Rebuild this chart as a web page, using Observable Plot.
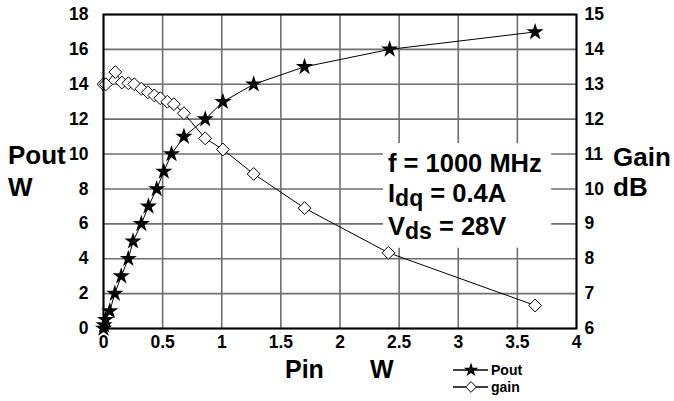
<!DOCTYPE html>
<html>
<head>
<meta charset="utf-8">
<script src="https://cdn.jsdelivr.net/npm/d3@7"></script>
<script src="https://cdn.jsdelivr.net/npm/@observablehq/plot@0.6"></script>
<style>
  html, body { margin: 0; padding: 0; background: #fff; }
  #chart svg { display: block; }
</style>
</head>
<body>
<div id="chart"></div>
<script>
// Pout curve (Pin in W, Pout in W)
const poutPin = [0, 0.005, 0.017, 0.053, 0.096, 0.15, 0.21, 0.25, 0.32, 0.38, 0.45, 0.51, 0.575, 0.68, 0.86, 1.01, 1.27, 1.70, 2.42, 3.65];
const poutW   = [0, 0.2, 0.5, 1, 2, 3, 4, 5, 6, 7, 8, 9, 10, 11, 12, 13, 14, 15, 16, 17];
// Gain curve (Pin in W, gain in dB)
const gainPin = [0, 0.02, 0.10, 0.155, 0.21, 0.26, 0.32, 0.375, 0.43, 0.48, 0.54, 0.595, 0.68, 0.86, 1.01, 1.27, 1.70, 2.41, 3.65];
const gainDb  = [13.0, 13.0, 13.35, 13.05, 13.03, 13.0, 12.87, 12.77, 12.68, 12.6, 12.5, 12.43, 12.17, 11.45, 11.13, 10.43, 9.45, 8.17, 6.66];
// Ticks
const xTicks = [0, 0.5, 1, 1.5, 2, 2.5, 3, 3.5, 4];
const poutTicks = [0, 2, 4, 6, 8, 10, 12, 14, 16, 18];
const gainTicks = [6, 7, 8, 9, 10, 11, 12, 13, 14, 15];
// Annotation
const noteLines = [["f = 1000 MHz", null, null], ["I", "dq", " = 0.4A"], ["V", "ds", " = 28V"]];

// gain axis (6..15 dB) maps onto Pout axis (0..18 W)
const g2y = g => (g - 6) * 2;

const poutData = poutPin.map((p, i) => ({pin: p, v: poutW[i]}));
const gainData = gainPin.map((p, i) => ({pin: p, v: gainDb[i]}));

const font = "'Liberation Sans', Arial, Helvetica, sans-serif";
const gridStyle = {stroke: "#6e6e6e", strokeOpacity: 1, strokeWidth: 1.6};
const tickFont = 17.5;

const chart = Plot.plot({
  width: 674,
  height: 401,
  marginLeft: 103,
  marginRight: 98,
  marginTop: 14,
  marginBottom: 73,
  style: {fontFamily: font, background: "white", overflow: "visible"},
  x: {domain: [0, 4], axis: null},
  y: {domain: [0, 18], axis: null},
  marks: [
    Plot.gridX(xTicks, gridStyle),
    Plot.gridY(poutTicks, gridStyle),
    Plot.rect([{x1: 2.368, x2: 3.79, y1: 4.6, y2: 10.6}], {x1: "x1", x2: "x2", y1: "y1", y2: "y2", fill: "white"}),
    Plot.line(poutData, {x: "pin", y: "v", stroke: "black", strokeWidth: 1}),
    Plot.line(gainData, {x: "pin", y: d => g2y(d.v), stroke: "black", strokeWidth: 1}),
    Plot.dot(gainData, {x: "pin", y: d => g2y(d.v), symbol: "diamond2", r: 5.8, fill: "white", stroke: "black", strokeWidth: 1}),
    Plot.dot(poutData, {x: "pin", y: "v", symbol: "star", r: 5.4, fill: "black", stroke: "none"}),
    Plot.frame({stroke: "black", strokeWidth: 2}),
    Plot.text(xTicks, {x: d => d, frameAnchor: "bottom", dy: 19, text: d => String(d), fontSize: tickFont, fontWeight: "bold", fill: "black"}),
    Plot.text(poutTicks, {y: d => d, frameAnchor: "left", dx: -15, textAnchor: "end", text: d => String(d), fontSize: tickFont, fontWeight: "bold", fill: "black"}),
    Plot.text(gainTicks, {y: d => g2y(d), frameAnchor: "right", dx: 8, textAnchor: "start", text: d => String(d), fontSize: tickFont, fontWeight: "bold", fill: "black"})
  ]
});

document.getElementById("chart").appendChild(chart);

const svg = d3.select(chart);

// Extra text (axis titles, annotation, legend)
const sx = chart.scale("x");
const t = svg.append("g").attr("font-family", font).attr("font-weight", "bold").attr("fill", "black").attr("text-anchor", "start");

function label(x, y, txt, size, anchor = "start") {
  t.append("text").attr("x", x).attr("y", y).attr("font-size", size).attr("text-anchor", anchor).text(txt);
}
// Axis titles
label(8, 164, "Pout", 26);
label(8, 196, "W", 26);
label(613, 166, "Gain", 26);
label(613, 196, "dB", 26);
label(285, 378, "Pin", 25);
label(370, 378, "W", 25);

// Annotation
const noteX = sx.apply(2.368) + 5;
const baseY = [172, 202, 235];
noteLines.forEach(([a, sub, b], i) => {
  const tx = t.append("text").attr("x", noteX).attr("y", baseY[i]).attr("font-size", 25.5).attr("text-anchor", "start");
  tx.append("tspan").text(a);
  if (sub) {
    tx.append("tspan").attr("dy", 4).attr("font-size", 23).text(sub);
    tx.append("tspan").attr("dy", -4).text(b);
  }
});

// Legend
const lg = svg.append("g");
const legendRows = [{name: "Pout", y: 370, sym: d3.symbolStar, fill: "black", size: 4.5 * 4.5 * Math.PI},
                    {name: "gain", y: 387, sym: d3.symbolDiamond2, fill: "white", size: 4.8 * 4.8 * Math.PI}];
legendRows.forEach(r => {
  lg.append("line").attr("x1", 453).attr("x2", 488).attr("y1", r.y).attr("y2", r.y).attr("stroke", "black").attr("stroke-width", 1.5);
  lg.append("path").attr("d", d3.symbol(r.sym, r.size)()).attr("transform", `translate(471,${r.y})`)
    .attr("fill", r.fill).attr("stroke", r.fill === "black" ? "none" : "black").attr("stroke-width", 1);
  lg.append("text").attr("x", 491).attr("y", r.y + 5).attr("font-family", font).attr("font-weight", "bold")
    .attr("font-size", 14).attr("fill", "black").attr("text-anchor", "start").text(r.name);
});
</script>
</body>
</html>
